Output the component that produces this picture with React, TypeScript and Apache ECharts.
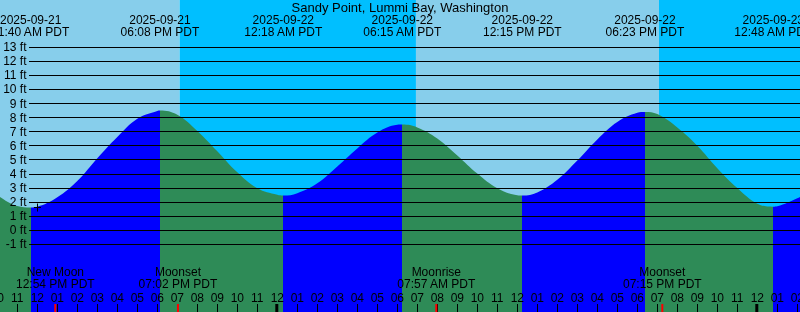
import { useEffect, useRef } from "react";
import * as echarts from "echarts";

const TITLE = "Sandy Point, Lummi Bay, Washington";
const FONT = "Liberation Sans";

// Hours relative to 2025-09-22 00:00 PDT, tide height in feet
const tideTimes = [
  -14, -13, -12.333, -12, -11, -10, -9, -8, -7, -6, -5.867,
  -5, -4, -3, -2, -1, 0, 0.3,
  1, 2, 3, 4, 5, 6, 6.25,
  7, 8, 9, 10, 11, 12, 12.25,
  13, 14, 15, 16, 17, 18, 18.383,
  19, 20, 21, 22, 23, 24, 24.8,
  25, 26, 26.5,
];
const tideHeights = [
  2.49, 1.7, 1.6, 1.65, 2.32, 3.48, 5.1, 6.62, 7.92, 8.47, 8.5,
  8.2, 7.05, 5.6, 4.1, 2.97, 2.5, 2.45,
  2.62, 3.32, 4.52, 5.8, 6.93, 7.48, 7.5,
  7.3, 6.51, 5.3, 4.01, 2.97, 2.47, 2.45,
  2.67, 3.57, 4.94, 6.44, 7.68, 8.34, 8.4,
  8.25, 7.3, 6.0, 4.4, 2.98, 1.87, 1.65,
  1.68, 2.25, 2.62,
];

// High / low tides
const extremeTimes = [-12.333, -5.867, 0.3, 6.25, 12.25, 18.383, 24.8];
const extremeDates = [
  "2025-09-21", "2025-09-21", "2025-09-22", "2025-09-22",
  "2025-09-22", "2025-09-22", "2025-09-23",
];
const extremeClock = [
  "11:40 AM PDT", "06:08 PM PDT", "12:18 AM PDT", "06:15 AM PDT",
  "12:15 PM PDT", "06:23 PM PDT", "12:48 AM PDT",
];
// true when the extreme is a low (tide rises after it)
const extremeIsLow = [true, false, true, false, true, false, true];

// Moon events
const moonTimes = [-11.1, -4.967, 7.95, 19.25];
const moonNames = ["New Moon", "Moonset", "Moonrise", "Moonset"];
const moonClock = ["12:54 PM PDT", "07:02 PM PDT", "07:57 AM PDT", "07:15 PM PDT"];

// Sun events: sunset, sunrise, sunset
const sunTimes = [-4.883, 6.933, 19.083];
const midnightTimes = [0, 24];

// "+" mark
const markTimes = [-12];
const markHeights = [1.6];

// Axis ranges
const hourMin = -14;
const hourMax = 27;
const ftMin = -1;
const ftMax = 13;

const SKY_DAY = "#87CEEB";
const SKY_NIGHT = "#00BFFF";
const FLOOD = "#0000FF";
const EBB = "#2E8B57";

function hourLabel(v: number): string {
  const h = ((Math.round(v) % 24) + 24) % 24;
  const h12 = h % 12 === 0 ? 12 : h % 12;
  return (h12 < 10 ? "0" : "") + h12;
}

export default function App() {
  const ref = useRef<HTMLDivElement>(null);

  useEffect(() => {
    if (!ref.current) return;
    const chart = echarts.init(ref.current, undefined, { renderer: "svg" });

    const bandEdges = [hourMin, ...sunTimes, hourMax];
    const bands = bandEdges.slice(0, -1).map((s, i) => [s, bandEdges[i + 1], i % 2]);

    const pieces: any[] = [];
    pieces.push({ lt: extremeTimes[0], color: extremeIsLow[0] ? EBB : FLOOD });
    for (let i = 0; i < extremeTimes.length; i++) {
      const p: any = { gte: extremeTimes[i], color: extremeIsLow[i] ? FLOOD : EBB };
      if (i + 1 < extremeTimes.length) p.lt = extremeTimes[i + 1];
      pieces.push(p);
    }

    const textEl = (text: string, x: number, y: number, lineHeight: number) => ({
      type: "text",
      x,
      y,
      style: {
        text,
        align: "center",
        verticalAlign: "middle",
        fill: "#000",
        fontSize: 12,
        lineHeight,
        fontFamily: FONT,
      },
    });

    const option: any = {
      animation: false,
      title: {
        text: TITLE,
        left: "center",
        top: 0.5,
        padding: 0,
        textStyle: { fontSize: 13, lineHeight: 13, fontWeight: "normal", color: "#000", fontFamily: FONT },
      },
      grid: [
        { left: -2.7, right: -17.3, top: 0, bottom: 0, outerBoundsMode: "none", containLabel: false },
        { left: 29, right: 0, top: 47.3, bottom: 68, outerBoundsMode: "none", containLabel: false },
      ],
      xAxis: [
        {
          type: "value",
          gridIndex: 0,
          min: hourMin,
          max: hourMax,
          interval: 1,
          z: 10,
          axisLine: { show: false, onZero: false },
          axisTick: { show: true, inside: true, length: 8, lineStyle: { color: "#000", width: 1 } },
          axisLabel: {
            show: true,
            inside: true,
            margin: 8.5,
            interval: 0,
            hideOverlap: false,
            showMinLabel: true,
            showMaxLabel: true,
            color: "#000",
            fontSize: 12,
            fontFamily: FONT,
            formatter: hourLabel,
          },
          splitLine: { show: false },
        },
        { type: "value", gridIndex: 1, min: 0, max: 1, show: false, axisLine: { onZero: false } },
      ],
      yAxis: [
        { type: "value", gridIndex: 0, min: -5.84, max: 16.366, show: false, axisLine: { onZero: false } },
        {
          type: "value",
          gridIndex: 1,
          min: ftMin,
          max: ftMax,
          interval: 1,
          z: 10,
          axisLine: { show: false, onZero: false },
          axisTick: { show: false },
          axisLabel: {
            formatter: "{value} ft",
            color: "#000",
            fontSize: 12,
            fontFamily: FONT,
            margin: 2.5,
          },
          splitLine: { show: true, lineStyle: { color: "#000", width: 1 } },
        },
      ],
      visualMap: {
        type: "piecewise",
        show: false,
        dimension: 0,
        seriesIndex: 1,
        pieces,
      },
      series: [
        {
          type: "custom",
          xAxisIndex: 0,
          yAxisIndex: 0,
          z: 0,
          silent: true,
          data: bands,
          encode: { x: [0, 1] },
          renderItem: (params: any, api: any) => {
            const x0 = api.coord([api.value(0), 0])[0];
            const x1 = api.coord([api.value(1), 0])[0];
            const cs = params.coordSys;
            return {
              type: "rect",
              shape: { x: x0, y: cs.y, width: x1 - x0, height: cs.height },
              style: { fill: api.value(2) === 1 ? SKY_NIGHT : SKY_DAY },
            };
          },
        },
        {
          type: "line",
          xAxisIndex: 0,
          yAxisIndex: 0,
          z: 2,
          silent: true,
          smooth: 0.4,
          symbol: "none",
          showSymbol: false,
          lineStyle: { width: 0 },
          areaStyle: { opacity: 1, origin: "start" },
          data: tideTimes.map((t, i) => [t, tideHeights[i]]),
        },
        {
          type: "custom",
          xAxisIndex: 0,
          yAxisIndex: 0,
          z: 11,
          silent: true,
          data: [
            ...midnightTimes.map((t) => [t, 0]),
            ...moonTimes.map((t) => [t, 1]),
          ],
          encode: { x: 0 },
          renderItem: (params: any, api: any) => {
            const x = api.coord([api.value(0), 0])[0];
            const cs = params.coordSys;
            const moon = api.value(1) === 1;
            const w = moon ? 2 : 3;
            return {
              type: "rect",
              shape: { x: moon ? x - 1 : x - 2, y: cs.y + cs.height - 8, width: w, height: 8 },
              style: { fill: moon ? "#FF0000" : "#000" },
            };
          },
        },
        {
          type: "custom",
          xAxisIndex: 0,
          yAxisIndex: 0,
          z: 11,
          silent: true,
          data: extremeTimes.map((t) => [t, 0]),
          encode: { x: 0 },
          renderItem: (params: any, api: any) => {
            const i = params.dataIndex;
            const x = api.coord([api.value(0), 0])[0];
            return textEl(extremeDates[i] + "\n" + extremeClock[i], x, 25.5, 12);
          },
        },
        {
          type: "custom",
          xAxisIndex: 0,
          yAxisIndex: 0,
          z: 11,
          silent: true,
          data: moonTimes.map((t) => [t, 0]),
          encode: { x: 0 },
          renderItem: (params: any, api: any) => {
            const i = params.dataIndex;
            const x = api.coord([api.value(0), 0])[0];
            return textEl(moonNames[i] + "\n" + moonClock[i], x, 277.8, 11.6);
          },
        },
        {
          type: "custom",
          xAxisIndex: 0,
          yAxisIndex: 0,
          z: 11,
          silent: true,
          data: markTimes.map((t, i) => [t, markHeights[i]]),
          encode: { x: 0, y: 1 },
          renderItem: (params: any, api: any) => {
            const p = api.coord([api.value(0), api.value(1)]);
            const cx = Math.round(p[0]) + 0.5;
            const cy = Math.round(p[1]) + 0.5;
            return {
              type: "group",
              children: [
                {
                  type: "line",
                  shape: { x1: cx - 3.5, y1: cy, x2: cx + 3.5, y2: cy },
                  style: { stroke: "#000", lineWidth: 1 },
                },
                {
                  type: "line",
                  shape: { x1: cx, y1: cy - 4, x2: cx, y2: cy + 4 },
                  style: { stroke: "#000", lineWidth: 1 },
                },
              ],
            };
          },
        },
      ],
    };

    chart.setOption(option);
    return () => chart.dispose();
  }, []);

  return (
    <div
      ref={ref}
      style={{ position: "fixed", left: 0, top: 0, width: 800, height: 312 }}
    />
  );
}
